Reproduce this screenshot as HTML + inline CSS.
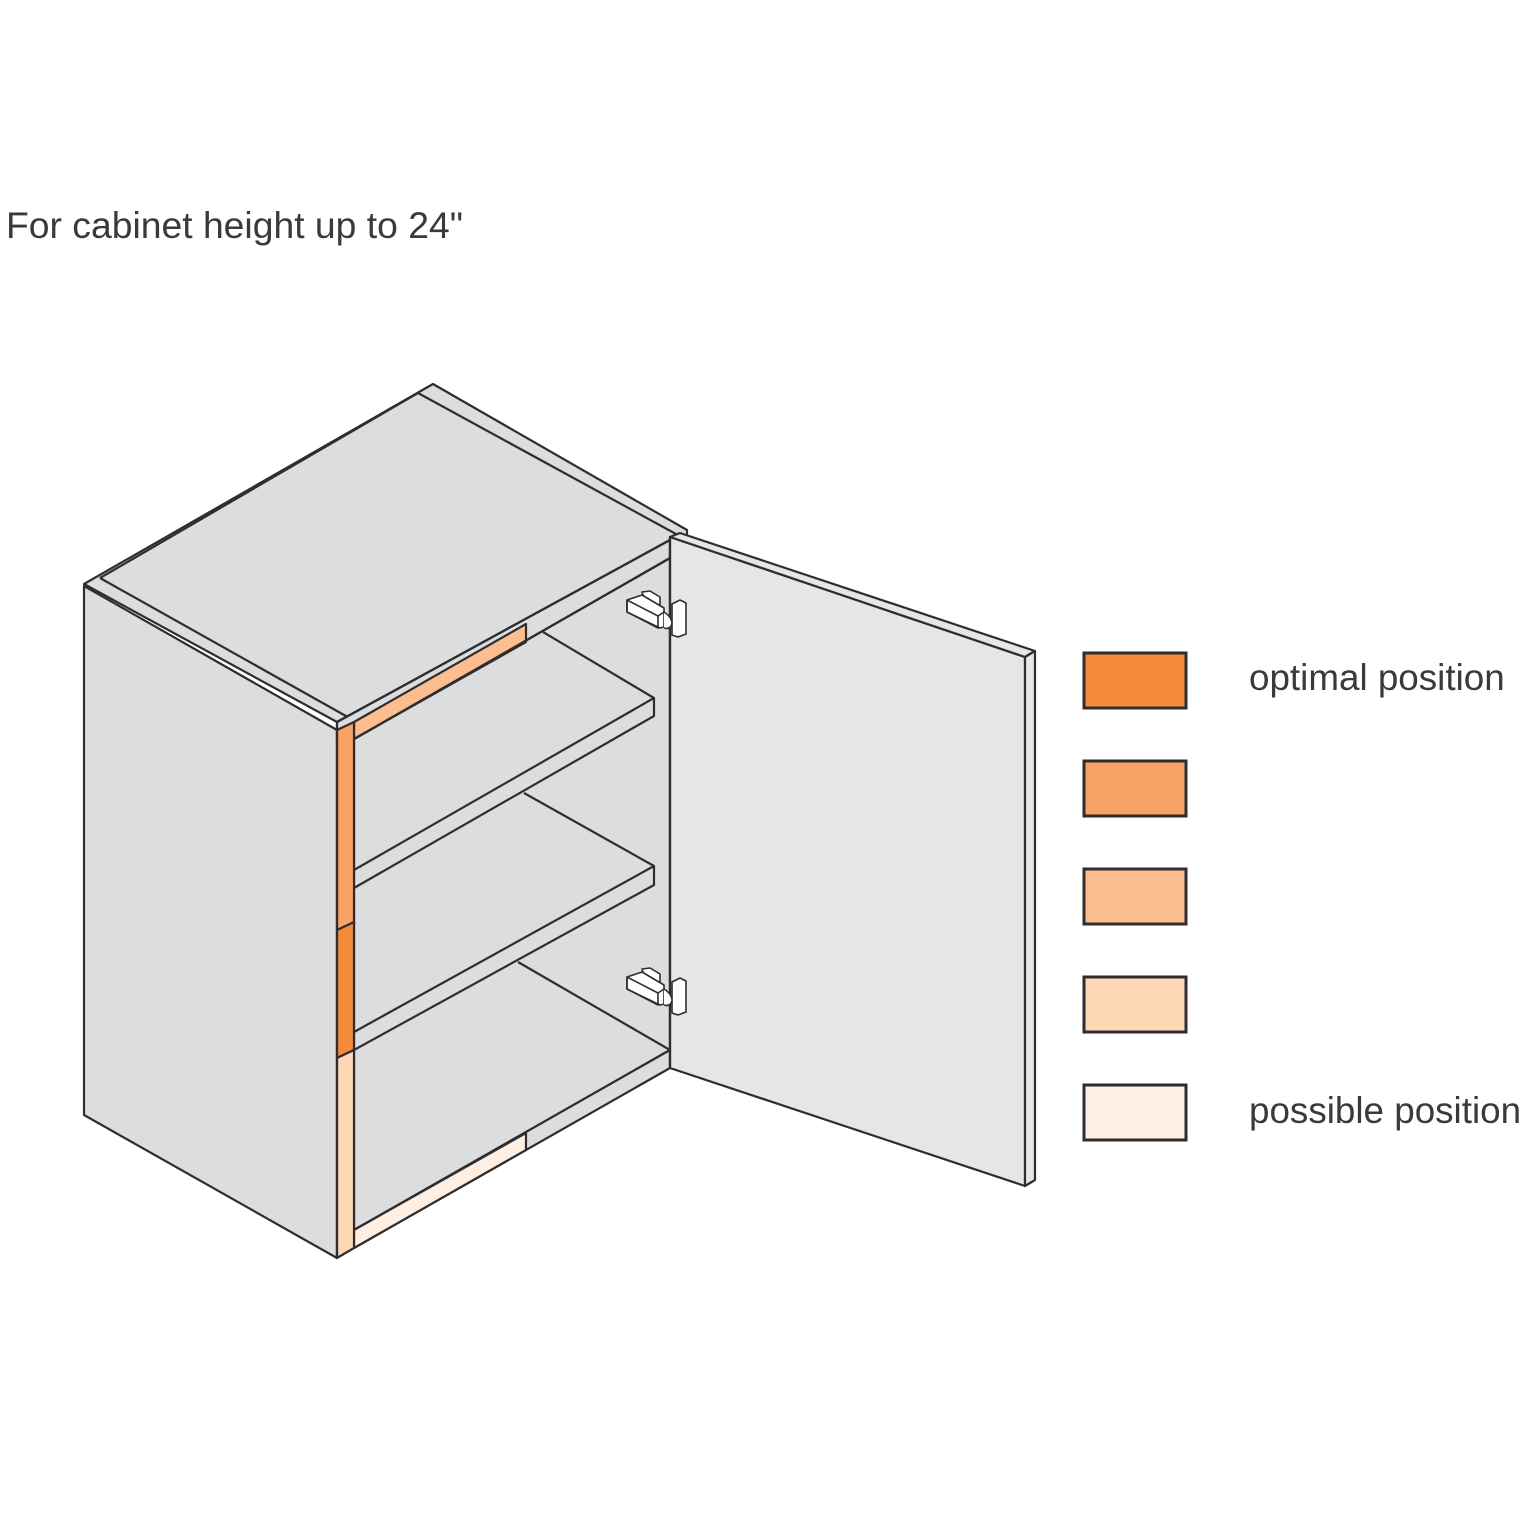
<!DOCTYPE html>
<html><head><meta charset="utf-8"><style>
html,body{margin:0;padding:0;background:#fff;}
svg{display:block;}
text{font-family:"Liberation Sans",Arial,sans-serif;fill:#3a3a3c;}
</style></head><body>
<svg width="1536" height="1536" viewBox="0 0 1536 1536" xmlns="http://www.w3.org/2000/svg">
<text x="6" y="238" font-size="37.3">For cabinet height up to 24"</text>
<g stroke="#2e2e30" stroke-width="2.2" stroke-linejoin="round" fill="#dcdddf">
<polygon points="84,584 433,384 687,530 687,538 670,540 337,722"/>
<line x1="100" y1="578" x2="418" y2="393"/>
<line x1="418" y1="393" x2="676" y2="534"/>
<line x1="100" y1="578" x2="353" y2="720"/>
<polygon points="84,586 337,730 337,1258 84,1115"/>
<polygon points="354,739 670,558 670,1050 354,1230" fill="#dcdddf"/>
<polygon points="337,722 670,540 670,558 354,739 337,739" fill="#dcdddf"/>
<polygon points="354,722 526,624 526,642 354,739" fill="#fdbe8f"/>
<line x1="337" y1="722" x2="670" y2="540"/>
<line x1="354" y1="739" x2="670" y2="558"/>
<polygon points="354,870 543,632 654,698 654,716 354,888" fill="#dcdddf" stroke="none"/>
<line x1="543" y1="632" x2="654" y2="698"/>
<polygon points="354,870 654,698 654,716 354,888" fill="#dcdddf"/>
<polygon points="354,1032 524,793 654,866 654,885 354,1050" fill="#dcdddf" stroke="none"/>
<line x1="524" y1="793" x2="654" y2="866"/>
<polygon points="354,1032 654,866 654,885 354,1050" fill="#dcdddf"/>
<line x1="518" y1="962" x2="670" y2="1050"/>
<polygon points="354,1230 670,1050 670,1068 354,1248" fill="#dcdddf"/>
<polygon points="354,1230 526,1133 526,1150 354,1248" fill="#ffeee2"/>
<polygon points="337,730 354,722 354,925 337,930" fill="#f9a266"/>
<polygon points="337,930 354,922 354,1050 337,1058" fill="#f58a3a"/>
<polygon points="337,1058 354,1050 354,1248 337,1258" fill="#fdd8b5"/>
<line x1="337" y1="722" x2="337" y2="1258"/>
<polygon points="670,537 1025,657 1025,1186 670,1068" fill="#e5e6e8"/>
<polygon points="670,537 680,533 1035,651 1025,657" fill="#e5e6e8"/>
<polygon points="1025,657 1035,651 1035,1180 1025,1186" fill="#e5e6e8"/>
<line x1="670" y1="537" x2="670" y2="1068"/>
<g fill="#fff" stroke-width="1.6">
<polygon points="642,592 650,591 660,597 660,606 644,598"/>
<polygon points="627,600 642,595 664,608 664,627 660,628 627,612"/>
<polyline points="627,600 627,612 658,628 658,616 627,600" fill="none"/>
<line x1="658" y1="616" x2="664" y2="612"/>
<polygon points="672,604 680,600 686,603 686,634 678,637 672,635"/>
<path d="M664,612 q8,5 8,12 q-2,6 -8,4" />
<polygon points="642,969 650,968 660,974 660,983 644,975"/>
<polygon points="627,977 642,972 664,985 664,1004 660,1005 627,989"/>
<polyline points="627,977 627,989 658,1005 658,993 627,977" fill="none"/>
<line x1="658" y1="993" x2="664" y2="989"/>
<polygon points="672,982 680,978 686,981 686,1012 678,1015 672,1013"/>
<path d="M664,989 q8,5 8,12 q-2,6 -8,4" />
</g>
</g>
<g stroke="#2e2e30" stroke-width="3">
<rect x="1084" y="653" width="102" height="55" fill="#f58a3a"/>
<rect x="1084" y="761" width="102" height="55" fill="#f9a266"/>
<rect x="1084" y="869" width="102" height="55" fill="#fdbe8f"/>
<rect x="1084" y="977" width="102" height="55" fill="#fed7b4"/>
<rect x="1084" y="1085" width="102" height="55" fill="#ffeee2"/>
</g>
<text x="1249" y="690" font-size="36.8">optimal position</text>
<text x="1249" y="1123" font-size="36.8">possible position</text>
</svg>
</body></html>
